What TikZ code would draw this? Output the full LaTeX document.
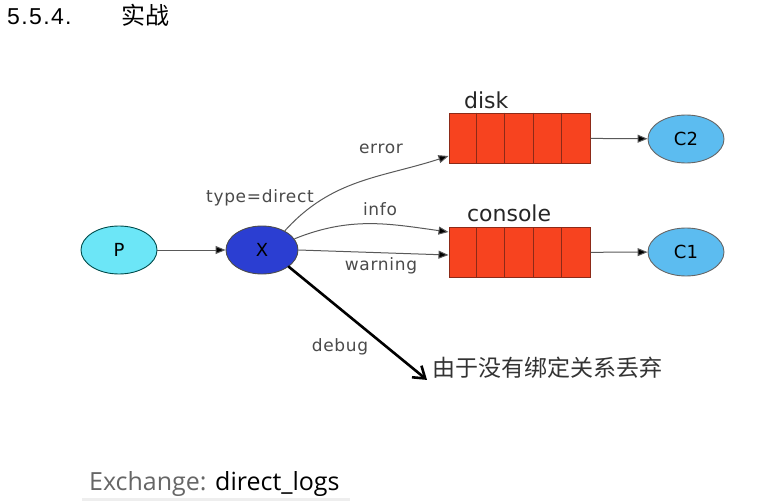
\documentclass[tikz,border=0pt]{standalone}
\usepackage{fontspec}
\setmainfont{DejaVu Sans}
\newfontfamily\cjk{Noto Sans CJK SC}
\newfontfamily\uifont{Open Sans}
\newfontfamily\numfont[LetterSpace=6]{Liberation Sans}
\newfontfamily\lblfont[LetterSpace=4]{DejaVu Sans}
\usetikzlibrary{arrows.meta,positioning,shapes.geometric}
\definecolor{qred}{HTML}{F7431F}
\definecolor{qedge}{HTML}{8C2A18}
\definecolor{pcyan}{HTML}{6CE6F7}
\definecolor{xblue}{HTML}{2B3ED2}
\definecolor{cblue}{HTML}{5CBCF0}
\definecolor{ltext}{HTML}{4A4A4A}
\definecolor{lrule}{HTML}{EEEEEE}
\tikzset{
  ell/.style={ellipse,draw=#1,line width=0.9pt,minimum width=76pt,minimum height=48pt,
              inner sep=0pt,font=\fontsize{18}{18}\selectfont},
  queue/.style={rectangle,draw=qedge,fill=qred,line width=1pt,
                minimum width=141pt,minimum height=50pt,inner sep=0pt},
  link/.style={draw=black!65,line width=1pt,-{Triangle[length=10pt,width=8pt,fill=black]}},
  lbl/.style={text=ltext,font=\lblfont\fontsize{17}{17}\selectfont},
  qname/.style={anchor=base west,text=black!85,font=\fontsize{22}{22}\selectfont},
}

\begin{document}
\begin{tikzpicture}[x=1pt,y=-1pt]
  \useasboundingbox (0,0) rectangle (769,503);

  % heading
  \node[anchor=base west,inner sep=0pt,font=\numfont\fontsize{23}{23}\selectfont] (num) at (7,25) {5.5.4.};
  \node[anchor=base west,inner sep=0pt,font=\cjk\fontsize{24}{24}\selectfont] (title) at (121,25) {实战};

  % producer and exchange
  \node[ell=teal!60!black,fill=pcyan] (p) at (119,250) {P};
  \node[ell=black!70,fill=xblue,minimum width=72pt] (x) at (262,250) {X};

  % queues
  \node[queue] (disk) at (519.5,138) {};
  \node[queue] (console) at (519.5,252.5) {};
  \foreach \q in {disk,console}
    \foreach \i in {1,...,4}
      \draw[qedge,line width=1pt] ([xshift=\i*28.2pt]\q.north west) -- ([xshift=\i*28.2pt]\q.south west);
  \node[qname] (diskname) at ([xshift=12pt,yshift=4pt]disk.north west) {disk};
  \node[qname] (consolename) at ([xshift=15pt,yshift=6pt]console.north west) {console};

  % consumers
  \node[ell=black!60,fill=cblue] (c2) at (686,139) {C2};
  \node[ell=black!60,fill=cblue] (c1) at (686,252) {C1};

  % routing
  \draw[link] (p) -- (x);
  \draw[link] (x.40) to[out=48,in=198] ([yshift=-18pt]disk.west);
  \draw[link] (x.19) to[out=22,in=172] ([yshift=20.5pt]console.west);
  \draw[link] (x.east) -- ([yshift=-2.5pt]console.west);
  \draw[link] (disk) -- (c2);
  \draw[link] (console) -- (c1);
  \node[lbl] (tlbl) at (260,198) {type=direct};
  \node[lbl] (elbl) at (381,149) {error};
  \node[lbl] (ilbl) at (380,209) {info};
  \node[lbl] (wlbl) at (381,266) {warning};

  % discarded
  \node[anchor=west,inner sep=0pt,text=black!80,font=\cjk\fontsize{23}{23}\selectfont] (drop) at (432,368) {由于没有绑定关系丢弃};
  \draw[line width=2.6pt,line cap=round,-{Straight Barb[length=11pt,width=15pt]}] (x.-32) -- ([xshift=-5pt,yshift=-1pt]drop.south west);
  \node[lbl] (dlbl) at (340,347) {debug};

  % footer
  \node[anchor=base west,inner sep=0pt,font=\uifont\fontsize{25}{25}\selectfont] (exch) at (89,490)
    {{\color{black!60}Exchange:} direct\_logs};
  \draw[lrule,line width=3pt] ([xshift=-7pt,yshift=-9pt]exch.base west) -- ++(268,0);
\end{tikzpicture}
\end{document}
